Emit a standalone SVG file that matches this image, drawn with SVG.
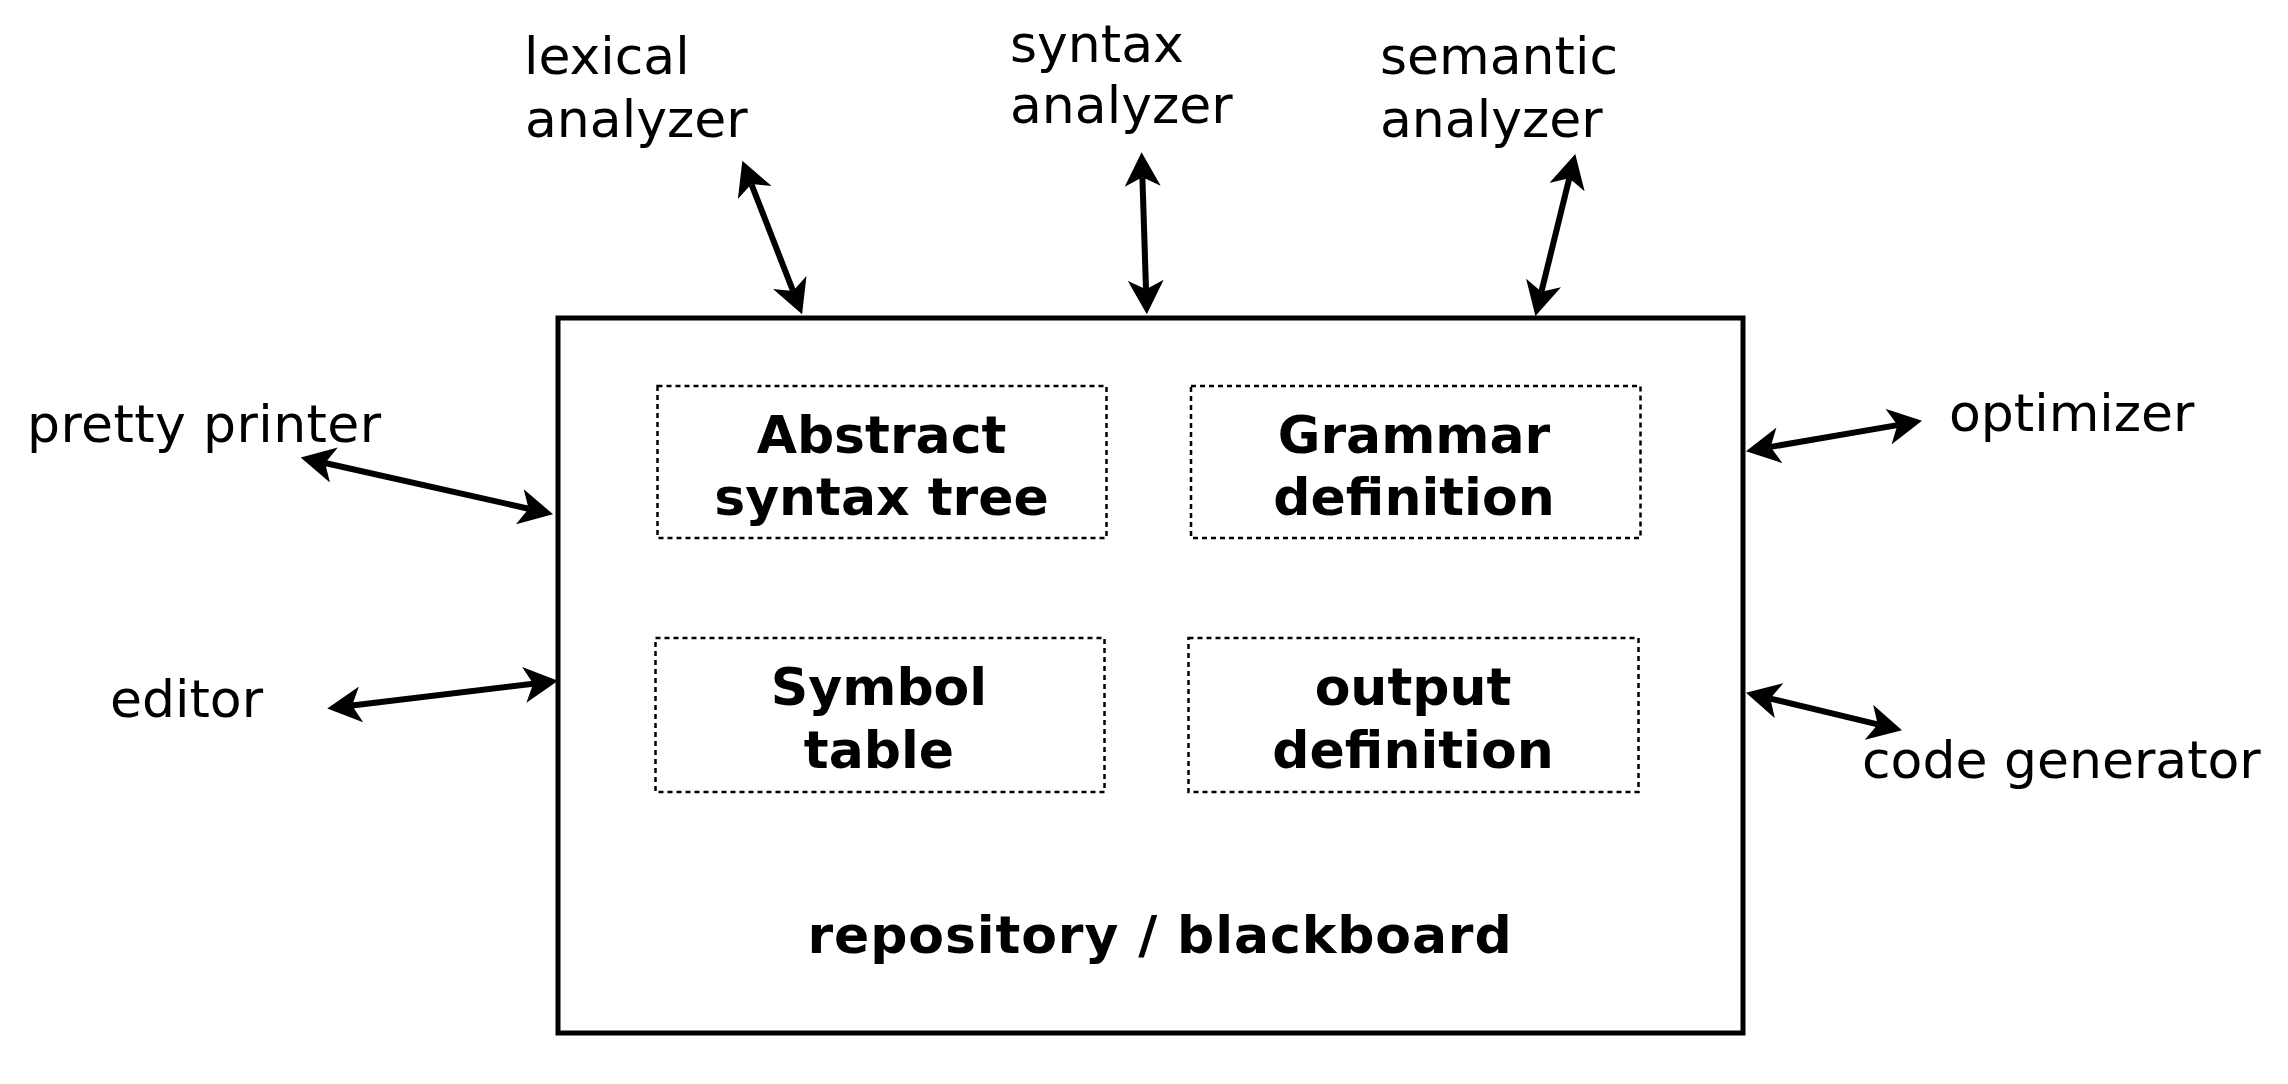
<svg xmlns="http://www.w3.org/2000/svg" width="2288" height="1084" viewBox="0 0 2288 1084">
<style>
.lbl{font-family:"DejaVu Sans",Verdana,sans-serif;font-size:52px;fill:#000}
.b{font-family:"DejaVu Sans",Verdana,sans-serif;font-size:52px;font-weight:bold;fill:#000;text-anchor:middle}
.main{fill:#fff;stroke:#000;stroke-width:5}
.inner{fill:none;stroke:#000;stroke-width:2.5;stroke-dasharray:5 4}
.conn{fill:none;stroke:#000;stroke-width:6;marker-start:url(#ah);marker-end:url(#ah)}
</style>
<defs>
<marker id="ah" viewBox="0 0 34 36" refX="9" refY="18" markerWidth="34" markerHeight="36" markerUnits="userSpaceOnUse" orient="auto-start-reverse">
<path d="M0,0 L34,18 L0,36 L9,18 Z" fill="#000"/>
</marker>
</defs>
<rect width="2288" height="1084" fill="#fff"/>
<g id="repository">
<rect class="main" x="558" y="318" width="1185" height="715"/>
<text class="b" x="1160" y="953" letter-spacing="0.9">repository / blackboard</text>
</g>
<g id="ast">
<rect class="inner" x="657.5" y="386" width="449" height="152"/>
<text class="b" x="881.5" y="453">Abstract</text>
<text class="b" x="881.5" y="515">syntax tree</text>
</g>
<g id="grammar">
<rect class="inner" x="1191" y="386" width="449.5" height="152"/>
<text class="b" x="1414" y="453">Grammar</text>
<text class="b" x="1414" y="515">definition</text>
</g>
<g id="symbol">
<rect class="inner" x="655.5" y="638" width="449" height="154"/>
<text class="b" x="879" y="705">Symbol</text>
<text class="b" x="879" y="768">table</text>
</g>
<g id="output">
<rect class="inner" x="1188.5" y="638" width="450" height="154"/>
<text class="b" x="1413" y="705">output</text>
<text class="b" x="1413" y="768">definition</text>
</g>
<g id="lexical">
<text class="lbl" x="524" y="74">lexical</text>
<text class="lbl" x="525" y="137">analyzer</text>
</g>
<g id="syntax">
<text class="lbl" x="1010" y="62">syntax</text>
<text class="lbl" x="1010" y="123">analyzer</text>
</g>
<g id="semantic">
<text class="lbl" x="1380" y="74">semantic</text>
<text class="lbl" x="1380" y="137">analyzer</text>
</g>
<g id="pretty-printer">
<text class="lbl" x="27" y="442" letter-spacing="0.4">pretty printer</text>
</g>
<g id="editor">
<text class="lbl" x="110" y="717">editor</text>
</g>
<g id="optimizer">
<text class="lbl" x="1949" y="431">optimizer</text>
</g>
<g id="code-generator">
<text class="lbl" x="1862" y="778">code generator</text>
</g>
<g id="connectors">
<line class="conn" x1="751.4" y1="184.1" x2="793.0" y2="290.9"/>
<line class="conn" x1="1142.4" y1="177.3" x2="1146.0" y2="289.3"/>
<line class="conn" x1="1569.3" y1="178.3" x2="1541.4" y2="291.7"/>
<line class="conn" x1="325.1" y1="463.0" x2="528.6" y2="508.7"/>
<line class="conn" x1="352.1" y1="705.5" x2="533.2" y2="683.8"/>
<line class="conn" x1="1770.6" y1="446.9" x2="1897.4" y2="425.1"/>
<line class="conn" x1="1770.3" y1="698.6" x2="1877.7" y2="724.4"/>
</g>
</svg>
